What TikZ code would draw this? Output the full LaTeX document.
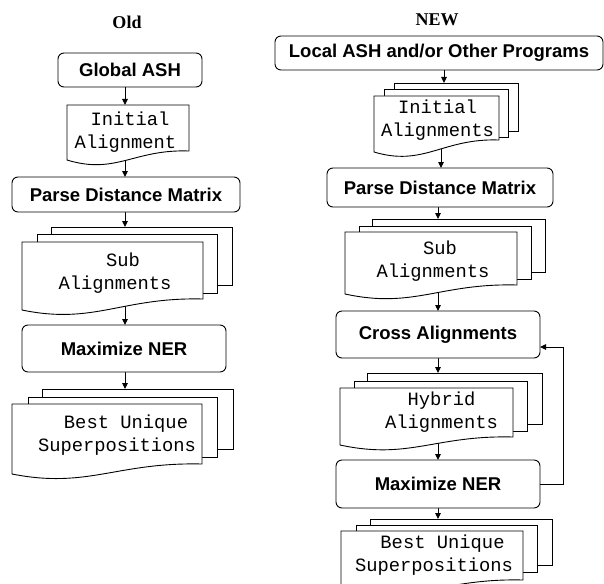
\documentclass[tikz,border=0pt]{standalone}
\usepackage{fontspec}
\setmainfont{Liberation Serif}
\newfontfamily\boxfont{Liberation Sans}
\newfontfamily\docfont{Liberation Mono}
\usetikzlibrary{arrows.meta,backgrounds}

\tikzset{
 proc/.style={draw, rounded corners=6pt, line width=0.9pt, fill=white, inner sep=0pt, outer sep=0pt,
   font=\boxfont\bfseries\fontsize{18.5}{22}\selectfont},
 layer/.style={draw, fill=white, line width=0.9pt, inner sep=0pt, outer sep=0pt},
 docframe/.style={inner sep=0pt, outer sep=0pt},
 doctext/.style={align=center, inner sep=0pt, font=\docfont\fontsize{18.8}{23}\selectfont},
 title/.style={inner sep=0pt, font=\bfseries\fontsize{18}{21}\selectfont},
 arr/.style={-{Triangle[length=6pt,width=5.5pt]}, line width=0.9pt},
}

\newcommand\mkbox[6]{\node[proc, minimum width={(#4-#2)*1pt}, minimum height={(#5-#3)*1pt}] (#1) at ({(#2+#4)/2},{(#3+#5)/2}) {#6};}
\newcommand\mklayer[5]{\node[layer, minimum width={(#4-#2)*1pt}, minimum height={(#5-#3)*1pt}] (#1) at ({(#2+#4)/2},{(#3+#5)/2}) {};}
\newcommand\mkdoc[6]{%
 \node[docframe, minimum width={(#4-#2)*1pt}, minimum height={(#5-#3)*1pt}] (#1) at ({(#2+#4)/2},{(#3+#5)/2}) {};
 \filldraw[layer] (#1.north west) -- (#1.north east) -- (#1.south east)
   .. controls ({#2+0.55*(#4-#2)},{#5-2}) and ({#2+0.4*(#4-#2)},{#5+#6+15}) .. (#2,{#5+#6}) -- cycle;}

\begin{document}
\begin{tikzpicture}[x=1pt,y=-1pt]
\useasboundingbox (0,0) rectangle (604,583);
\begin{scope}[on background layer]
\fill[white] (0,0) rectangle (604,583);
\end{scope}

% ---------------- Old ----------------
\node[title] (old) at (127,22) {Old};
\mkbox{globalL}{58}{53}{202}{87}{Global ASH}
\mkdoc{initL}{67}{105}{189}{151}{9}
\node[doctext] (initL-t) at (125.5,132.5) {\hspace*{9pt}Initial\\Alignment};
\mkbox{parseL}{12}{177}{240}{212}{Parse Distance Matrix}
\mklayer{subL-3}{51}{227}{232}{285}
\mklayer{subL-2}{37}{234}{217}{293}
\mkdoc{subL}{22}{242}{203}{299}{11}
\node[doctext] (subL-t) at (115,273) {\hspace*{16pt}Sub\\Alignments};
\mkbox{maxL}{22}{325}{226}{372}{Maximize NER}
\mklayer{bestL-3}{42}{389}{233}{449}
\mklayer{bestL-2}{28}{397}{217}{457}
\mkdoc{bestL}{12}{404}{202}{464}{10}
\node[doctext] (bestL-t) at (117,435.5) {\hspace*{18pt}Best Unique\\Superpositions};

% ---------------- NEW ----------------
\node[title] (new) at (437,20) {NEW};
\mkbox{localR}{275}{36}{603}{70}{Local ASH and/or Other Programs}
\mklayer{initR-3}{394}{83}{518}{131}
\mklayer{initR-2}{384}{89}{508}{137}
\mkdoc{initR}{374}{96}{499}{140}{12}
\node[doctext] (initR-t) at (437.5,120.5) {Initial\\Alignments};
\mkbox{parseR}{327}{168}{553}{207}{Parse Distance Matrix}
\mklayer{subR-3}{372}{219}{545}{272}
\mklayer{subR-2}{359}{226}{531}{279}
\mkdoc{subR}{345}{232}{517}{285}{9}
\node[doctext] (subR-t) at (433,261) {\hspace*{14pt}Sub\\Alignments};
\mkbox{crossR}{336}{311}{540}{358}{Cross Alignments}
\mklayer{hybR-3}{367}{373}{542}{424}
\mklayer{hybR-2}{354}{381}{527}{431}
\mkdoc{hybR}{340}{388}{513}{437}{8}
\node[doctext] (hybR-t) at (441.5,412) {Hybrid\\Alignments};
\mkbox{maxR}{336}{460}{540}{508}{Maximize NER}
\mklayer{bestR-3}{370}{519}{552}{565}
\mklayer{bestR-2}{356}{525}{537}{572}
\mkdoc{bestR}{341}{531}{523}{580}{10}
\node[doctext] (bestR-t) at (434,555) {\hspace*{17pt}Best Unique\\Superpositions};

% ---------------- connectors ----------------
\coordinate (cL) at (125,0);
\coordinate (cR1) at (444,0);
\coordinate (cR2) at (441,0);
\coordinate (cR) at (438,0);
\begin{scope}[on background layer]
\draw[arr] (globalL.south -| cL) -- (initL.north -| cL);
\draw[arr] (initL.south -| cL) -- (parseL.north -| cL);
\draw[arr] (parseL.south -| cL) -- (subL-3.north -| cL);
\draw[arr] (subL.south -| cL) -- (maxL.north -| cL);
\draw[arr] (maxL.south -| cL) -- (bestL-3.north -| cL);

\draw[arr] (localR.south -| cR1) -- (initR-3.north -| cR1);
\draw[arr] (initR.south -| cR2) -- (parseR.north -| cR2);
\draw[arr] (parseR.south -| cR) -- (subR-3.north -| cR);
\draw[arr] (subR.south -| cR) -- (crossR.north -| cR);
\draw[arr] (crossR.south -| cR) -- (hybR-3.north -| cR);
\draw[arr] (hybR.south -| cR) -- (maxR.north -| cR);
\draw[arr] (maxR.south -| cR) -- (bestR-3.north -| cR);
\end{scope}
\draw[arr] (maxR.east) -- ++(23,0) |- ([yshift=-12.5pt]crossR.east);
\end{tikzpicture}
\end{document}
